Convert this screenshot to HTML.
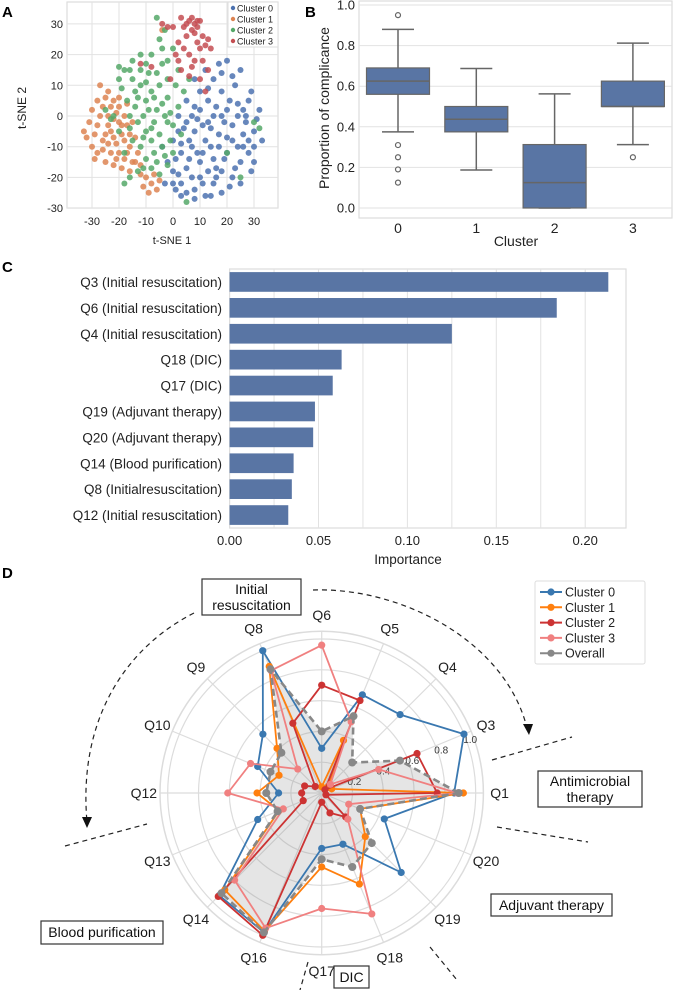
<!DOCTYPE html>
<html><head><meta charset="utf-8"><style>
html,body{margin:0;padding:0;background:#fff;}
svg{display:block;font-family:"Liberation Sans",Arial,sans-serif;}
</style></head><body>
<svg id="fig" width="673" height="990" viewBox="0 0 673 990" xmlns="http://www.w3.org/2000/svg">
<g font-weight="bold" font-size="15">
<text x="2" y="17">A</text>
<text x="305" y="17">B</text>
<text x="2" y="272">C</text>
<text x="2" y="578">D</text>
</g>
<g id="pa"></g>
<g id="pb"></g>
<g id="pc"></g>
<g id="pd"></g>
<g fill="none" stroke="#222" stroke-width="1.2" stroke-dasharray="5,4">
<path d="M313,590 C400,587 505,640 527,728"/>
<path d="M194,613 C125,648 78,720 87,822"/>
<line x1="492" y1="760" x2="572" y2="737"/>
<line x1="497" y1="827" x2="588" y2="842"/>
<line x1="430" y1="947" x2="457" y2="980"/>
<line x1="308" y1="962" x2="300" y2="990"/>
<line x1="65" y1="846" x2="147" y2="824"/>
</g>
<g fill="#111">
<polygon points="523,724 533,724 529,735"/>
<polygon points="82,817 92,817 87,828"/>
</g>
<g font-size="14" fill="#111" text-anchor="middle">
<rect x="202" y="579" width="99" height="36" fill="#fff" stroke="#333" stroke-width="1.2"/>
<text x="251.5" y="594">Initial</text>
<text x="251.5" y="610">resuscitation</text>
<rect x="538" y="771" width="104" height="36" fill="#fff" stroke="#333" stroke-width="1.2"/>
<text x="590" y="786">Antimicrobial</text>
<text x="590" y="802">therapy</text>
<rect x="491" y="894" width="121" height="22" fill="#fff" stroke="#333" stroke-width="1.2"/>
<text x="551.5" y="910">Adjuvant therapy</text>
<rect x="41" y="921" width="122" height="23" fill="#fff" stroke="#333" stroke-width="1.2"/>
<text x="102" y="937">Blood purification</text>
<rect x="334" y="966" width="35" height="22" fill="#fff" stroke="#333" stroke-width="1.2"/>
<text x="351.5" y="982">DIC</text>
</g>
</svg>
<script>
// ---------- Panel A data ----------
const tsneC0 = [[5,-25],[8,-24],[12,-26],[3,-22],[10,-20],[15,-22],[18,-18],[22,-20],[25,-15],[28,-12],[30,-10],[33,-8],[30,-5],[27,-2],[24,0],[20,2],[15,0],[10,2],[5,-2],[2,-5],[0,-8],[3,-12],[7,-10],[12,-8],[17,-6],[22,-8],[26,-6],[20,-12],[15,-14],[10,-15],[5,-17],[0,-18],[-3,-22],[-2,-15],[8,-5],[13,5],[18,8],[23,10],[25,15],[20,18],[15,12],[10,8],[5,5],[2,0],[28,5],[32,2],[30,-15],[25,-22],[18,-25],[14,-10],[9,-12],[19,-2],[24,-10],[6,-8],[11,-3],[16,3],[21,5],[27,0],[29,-18],[3,-26],[12,15],[8,12],[18,14],[-4,-10],[1,-14],[13,-18],[22,-3],[7,0],[17,-10],[11,-22],[4,-4],[9,-1],[14,-4],[19,-14],[23,-17],[26,-10],[31,-1],[28,-8],[16,-20],[7,-20],[2,-19],[1,-24],[8,-27],[20,-7],[24,4],[18,0],[13,-2],[6,-14],[11,-12],[16,-17],[21,-23],[26,2],[29,8],[22,13],[17,17],[13,9],[8,3],[3,-9],[0,-22],[14,-26]];
const tsneC1 = [[-33,-5],[-32,-7],[-30,-10],[-28,-12],[-28,-3],[-27,0],[-26,3],[-25,6],[-24,8],[-22,5],[-20,3],[-18,0],[-17,-3],[-19,-6],[-21,-9],[-23,-12],[-25,-15],[-22,-16],[-18,-14],[-16,-10],[-14,-7],[-15,-2],[-17,4],[-20,-2],[-23,-5],[-26,-8],[-29,-6],[-24,0],[-21,1],[-13,-12],[-12,-16],[-19,-17],[-27,10],[-30,2],[-10,-20],[-8,-22],[-6,-24],[-9,-25],[-5,-21],[-11,-23],[-16,-18],[-20,-12],[-24,-3],[-18,-8],[-14,-15],[-4,28],[-22,-7],[-26,-11],[-31,-2],[-29,-14],[-24,-9],[-21,-14],[-19,-3],[-16,-6],[-22,-1],[-25,-6],[-28,5],[-23,3],[-20,6],[-17,-12],[-15,-15],[-7,-19],[-12,-19]];
const tsneC2 = [[-15,18],[-12,20],[-8,20],[-5,25],[-3,28],[-6,32],[0,22],[2,15],[-2,12],[-5,10],[-8,8],[-12,10],[-15,12],[-18,15],[-20,12],[-17,5],[-14,3],[-10,5],[-6,2],[-3,0],[0,-3],[2,3],[-2,6],[-7,-2],[-10,-5],[-13,-2],[-15,-8],[-12,-10],[-8,-8],[-4,-10],[0,-12],[-2,-16],[-6,-15],[-10,-14],[-13,-18],[-16,-20],[-18,-12],[-20,-5],[-22,0],[-25,2],[-18,-22],[4,8],[6,12],[-9,14],[-4,17],[3,-6],[-11,0],[-16,-4],[1,10],[-1,-8],[5,-28],[25,-20],[30,-2],[20,-12],[-7,-12],[-11,-7],[-4,4],[-14,8],[-10,11],[-6,14],[-2,18],[-16,15],[-19,9],[-12,15],[-8,-4],[-5,-6],[-2,-2],[-9,2],[-13,6],[-16,0],[-3,-13],[-8,-17],[-11,-17],[-5,-19],[-1,1],[-7,6],[-4,22],[-10,17],[-20,16],[-23,-1],[32,-4]];
const tsneC3 = [[0,29],[3,32],[6,31],[8,30],[9,29],[10,31],[7,28],[4,29],[-2,29],[11,26],[13,25],[14,22],[10,22],[6,20],[4,22],[2,24],[8,18],[11,18],[13,15],[10,12],[6,13],[3,15],[1,20],[-1,12],[12,8],[9,24],[-4,30],[5,26],[-8,16],[-12,17],[7,32],[9,31],[5,30],[8,27],[12,23],[7,16],[2,18]];
const tsneTicks = [-30,-20,-10,0,10,20,30];
// ---------- Panel B data ----------
const boxCats = ['0','1','2','3'];
const boxQ1 = [0.56,0.375,0.0,0.5];
const boxMed = [0.625,0.4375,0.125,0.5];
const boxQ3 = [0.69,0.5,0.3125,0.625];
const boxLo = [0.375,0.1875,0.0,0.3125];
const boxHi = [0.88,0.6875,0.5625,0.8125];
const boxOut = [[0.95,0.31,0.25,0.19,0.125],[],[],[0.25]];
const boxTicks = [0.0,0.2,0.4,0.6,0.8,1.0];
// ---------- Panel C data ----------
const impLabels = ['Q3 (Initial resuscitation)','Q6 (Initial resuscitation)','Q4 (Initial resuscitation)','Q18 (DIC)','Q17 (DIC)','Q19 (Adjuvant therapy)','Q20 (Adjuvant therapy)','Q14 (Blood purification)','Q8 (Initialresuscitation)','Q12 (Initial resuscitation)'];
const impValues = [0.213,0.184,0.125,0.063,0.058,0.048,0.047,0.036,0.035,0.033];
const impTicks = [0.00,0.05,0.10,0.15,0.20];
// ---------- Panel D data ----------
const radarAxes = ['Q1','Q3','Q4','Q5','Q6','Q8','Q9','Q10','Q12','Q13','Q14','Q16','Q17','Q18','Q19','Q20'];
const radarC0 = [0.86,1.0,0.72,0.69,0.29,1.0,0.54,0.45,0.28,0.45,0.94,0.98,0.36,0.36,0.73,0.44];
const radarC1 = [0.92,0.07,0.06,0.37,0.04,0.89,0.41,0.30,0.42,0.30,0.89,0.97,0.48,0.64,0.40,0.27];
const radarC2 = [0.75,0.67,0.03,0.65,0.70,0.49,0.06,0.12,0.13,0.13,0.95,1.0,0.06,0.14,0.22,0.03];
const radarC3 = [0.88,0.40,0.08,0.50,0.96,0.86,0.22,0.50,0.61,0.27,0.80,0.95,0.75,0.85,0.24,0.19];
const radarOverall = [0.89,0.55,0.28,0.54,0.40,0.87,0.37,0.36,0.36,0.31,0.92,0.98,0.43,0.52,0.46,0.27];
const radarTicks = [0.2,0.4,0.6,0.8,1.0];
const radarSeriesNames = ['Cluster 0','Cluster 1','Cluster 2','Cluster 3','Overall'];

const NS='http://www.w3.org/2000/svg';
function mk(tag, attrs, parent){const e=document.createElementNS(NS,tag);for(const k in attrs)e.setAttribute(k,attrs[k]);parent.appendChild(e);return e;}
function txt(s, attrs, parent){const e=mk('text',attrs,parent);e.textContent=s;return e;}

// ===== Panel A =====
(function(){
const g=document.getElementById('pa');
const L=67,R=278,T=2,B=208;
const xs=v=>173+v*2.7, ys=v=>116-v*3.07;
let e=mk('rect',{x:L,y:T,width:R-L,height:B-T,fill:'#fff',stroke:'#ddd','stroke-width':1.2},g);

tsneTicks.forEach(t=>{
 e=mk('line',{x1:xs(t),x2:xs(t),y1:T,y2:B,stroke:'#e2e2e2'},g);
 
 e=mk('line',{x1:L,x2:R,y1:ys(t),y2:ys(t),stroke:'#e2e2e2'},g);
 
 e=txt(String(t),{x:xs(t),y:225,'font-size':11,'text-anchor':'middle',fill:'#222'},g);
 
 e=txt(String(t),{x:L-4,y:ys(t)+4,'font-size':11,'text-anchor':'end',fill:'#222'},g);
 
});
const cols=['#4c72b0','#dd8452','#55a868','#c44e52'];
[tsneC0,tsneC1,tsneC2,tsneC3].forEach((arr,ci)=>{
 arr.forEach(p=>{
  e=mk('circle',{cx:xs(p[0]),cy:ys(p[1]),r:3,fill:cols[ci],'fill-opacity':0.85},g);
  
  
 });
});
e=txt('t-SNE 1',{x:172,y:244,'font-size':11,'text-anchor':'middle',fill:'#222'},g);

e=txt('t-SNE 2',{x:0,y:0,'font-size':12,'text-anchor':'middle',fill:'#222',transform:'translate(26,108) rotate(-90)'},g);

const lg=mk('g',{},g);

mk('rect',{x:228,y:2,width:50,height:45,fill:'#fff','fill-opacity':0.85,stroke:'#ddd'},lg);
['Cluster 0','Cluster 1','Cluster 2','Cluster 3'].forEach((n,i)=>{
 e=mk('circle',{cx:233,cy:8+i*11,r:2.2,fill:cols[i]},lg);
 
 e=txt(n,{x:237,y:11.5+i*11,'font-size':9,fill:'#222'},lg);
 
});
})();

// ===== Panel B =====
(function(){
const g=document.getElementById('pb');
const L=359,R=672,T=1,B=218;
const ys=v=>208-v*203, xs=i=>398+i*78.3;
let e=mk('rect',{x:L,y:T,width:R-L,height:B-T,fill:'#fff',stroke:'#ddd','stroke-width':1.2},g);

boxTicks.forEach(t=>{
 e=mk('line',{x1:L,x2:R,y1:ys(t),y2:ys(t),stroke:'#e2e2e2'},g);
 
 e=txt(t.toFixed(1),{x:L-4,y:ys(t)+4.5,'font-size':13,'text-anchor':'end',fill:'#222'},g);
 
});
boxCats.forEach((c,i)=>{
 const x=xs(i),w=63;
 e=mk('line',{x1:x,x2:x,y1:ys(boxLo[i]),y2:ys(boxQ1[i]),stroke:'#666','stroke-width':1.5},g);
 
 e=mk('line',{x1:x,x2:x,y1:ys(boxHi[i]),y2:ys(boxQ3[i]),stroke:'#666','stroke-width':1.5},g);
 
 e=mk('line',{x1:x-16,x2:x+16,y1:ys(boxLo[i]),y2:ys(boxLo[i]),stroke:'#666','stroke-width':1.5},g);
 
 e=mk('line',{x1:x-16,x2:x+16,y1:ys(boxHi[i]),y2:ys(boxHi[i]),stroke:'#666','stroke-width':1.5},g);
 
 e=mk('rect',{x:x-w/2,y:ys(boxQ3[i]),width:w,height:ys(boxQ1[i])-ys(boxQ3[i]),fill:'#5975a4',stroke:'#666','stroke-width':1.2},g);
 
 e=mk('line',{x1:x-w/2,x2:x+w/2,y1:ys(boxMed[i]),y2:ys(boxMed[i]),stroke:'#666','stroke-width':1.5},g);
 
 boxOut[i].forEach(v=>{
  e=mk('circle',{cx:x,cy:ys(v),r:2.5,fill:'none',stroke:'#666','stroke-width':1.2},g);
  
 });
 e=txt(c,{x:x,y:233,'font-size':14,'text-anchor':'middle',fill:'#222'},g);
 
});
e=txt('Cluster',{x:516,y:246,'font-size':14,'text-anchor':'middle',fill:'#222'},g);

e=txt('Proportion of complicance',{x:0,y:0,'font-size':14,'text-anchor':'middle',fill:'#222',transform:'translate(329,108) rotate(-90)'},g);

})();

// ===== Panel C =====
(function(){
const g=document.getElementById('pc');
const L=229.6,R=626,T=269,B=528;
const xs=v=>L+v*1778;
let e=mk('rect',{x:L,y:T,width:R-L,height:B-T,fill:'#fff',stroke:'#ddd','stroke-width':1.2},g);

[0.025,0.05,0.075,0.10,0.125,0.15,0.175,0.20].forEach(t=>{
 e=mk('line',{x1:xs(t),x2:xs(t),y1:T,y2:B,stroke:'#e2e2e2'},g);
 
});
impTicks.forEach(t=>{
 e=txt(t.toFixed(2),{x:xs(t),y:545,'font-size':13,'text-anchor':'middle',fill:'#222'},g);
 
});
const step=(B-T)/impLabels.length;
impLabels.forEach((lab,i)=>{
 const cy=T+step*(i+0.5);
 e=mk('rect',{x:L,y:cy-step*0.38,width:xs(impValues[i])-L,height:step*0.76,fill:'#5975a4'},g);
 
 e=txt(lab,{x:222,y:cy+5,'font-size':13.5,'text-anchor':'end',fill:'#222'},g);
 
});
e=txt('Importance',{x:408,y:564,'font-size':13.5,'text-anchor':'middle',fill:'#222'},g);

})();

// ===== Panel D =====
(function(){
const g=document.getElementById('pd');
const cx=321.7,cy=793,S=154;
const ang=i=>i*Math.PI*2/radarAxes.length;
const pt=(i,v)=>[cx+Math.cos(ang(i))*v*S, cy-Math.sin(ang(i))*v*S];
let e;
radarTicks.forEach(t=>{
 e=mk('circle',{cx:cx,cy:cy,r:t*S,fill:'none',stroke:'#dcdcdc','stroke-width':1.2},g);
 
});
e=mk('circle',{cx:cx,cy:cy,r:1.05*S,fill:'none',stroke:'#dcdcdc','stroke-width':1.5},g);

radarAxes.forEach((a,i)=>{
 const p=pt(i,1.05);
 e=mk('line',{x1:cx,y1:cy,x2:p[0],y2:p[1],stroke:'#dcdcdc','stroke-width':1.2},g);
 
 const q=pt(i,1.155);
 e=txt(a,{x:q[0],y:q[1]+5,'font-size':14,'text-anchor':'middle',fill:'#222'},g);
 
});
radarTicks.forEach(t=>{
 const a=20*Math.PI/180, r=t*S+4;
 e=txt(t.toFixed(1),{x:cx+Math.cos(a)*r,y:cy-Math.sin(a)*r+4,'font-size':10,'text-anchor':'middle',fill:'#333'},g);
 
});
const ptsStr=arr=>arr.map((v,i)=>pt(i,v).map(n=>n.toFixed(1)).join(',')).join(' ');
e=mk('polygon',{points:ptsStr(radarOverall),fill:'#888','fill-opacity':0.22,stroke:'none'},g);

const series=[radarC0,radarC1,radarC2,radarC3,radarOverall];
const cols=['#3a78b0','#ff7f0e','#cc3333','#f08080','#888888'];
series.forEach((arr,si)=>{
 const sg=mk('g',{},g);
 
 
 const at={points:ptsStr(arr),fill:'none',stroke:cols[si],'stroke-width':si==4?2.6:1.8,'stroke-linejoin':'round'};
 if(si==4) at['stroke-dasharray']='7,4';
 e=mk('polygon',at,sg);
 
 arr.forEach((v,i)=>{
  const p=pt(i,v);
  e=mk('circle',{cx:p[0],cy:p[1],r:si==4?4:3.6,fill:cols[si]},sg);
  
 });
});
// legend
const lg=mk('g',{},g);

mk('rect',{x:535,y:581,width:110,height:83,rx:2,fill:'#fff',stroke:'#ddd'},lg);
radarSeriesNames.forEach((n,i)=>{
 const y=592+i*15.3;
 const at={x1:540,x2:562,y1:y,y2:y,stroke:cols[i],'stroke-width':2};
 e=mk('line',at,lg);
 
 e=mk('circle',{cx:551,cy:y,r:3.6,fill:cols[i]},lg);
 
 e=txt(n,{x:565,y:y+4.5,'font-size':12.5,fill:'#222'},lg);
 
});
})();
</script>
</body></html>
